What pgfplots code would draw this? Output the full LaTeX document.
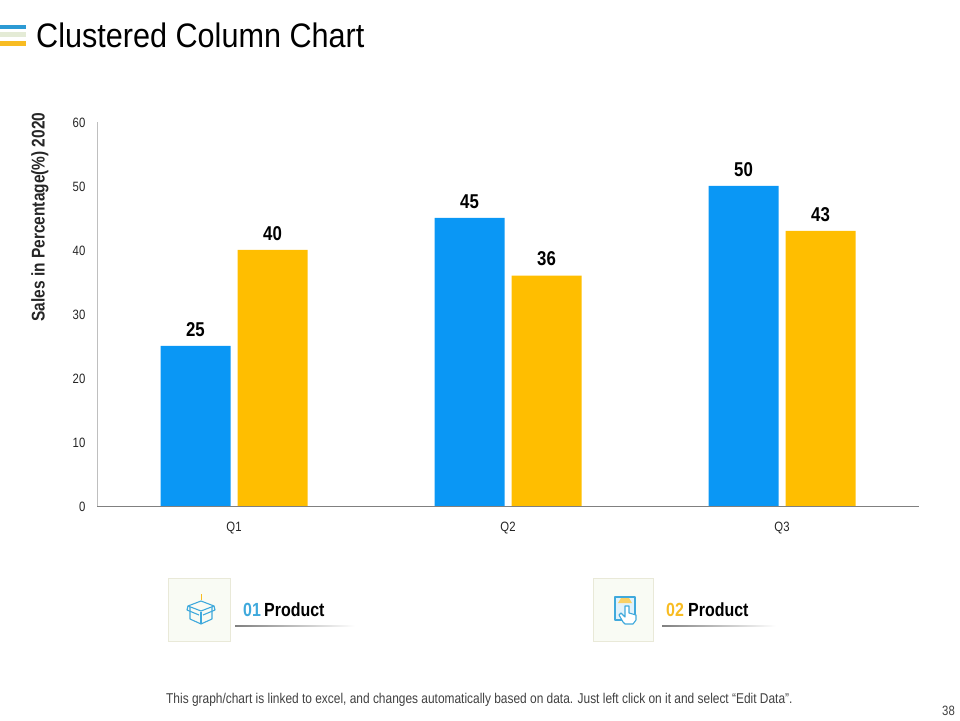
\documentclass[border=0pt]{standalone}
\usepackage{fontspec}
\setmainfont{Liberation Sans}
\newfontfamily\narrowfont[FakeStretch=0.84]{Liberation Sans}
\newfontfamily\titlefont[FakeStretch=0.9]{Liberation Sans}
\usepackage{pgfplots}
\pgfplotsset{compat=1.18}

\definecolor{barblue}{HTML}{0A97F5}
\definecolor{baryellow}{HTML}{FFBE00}
\definecolor{iconblue}{HTML}{3FA9DC}
\definecolor{stripeblue}{HTML}{2C9AD4}
\definecolor{stripepale}{HTML}{E4EBD6}
\definecolor{stripeyellow}{HTML}{F8BC22}
\definecolor{boxfill}{HTML}{F9FBF4}
\definecolor{boxline}{HTML}{E9E9D8}

\pgfplotstableread{
x q product1 product2
0 Q1 25 40
1 Q2 45 36
2 Q3 50 43
}\salesdata

\begin{document}
\begin{tikzpicture}[x=1pt,y=1pt]
\path (0,0) rectangle (960,720);

% title stripes (y counted from the bottom of the page)
\fill[stripeblue] (0,691) rectangle (26,695);
\fill[stripepale] (0,683) rectangle (26,688);
\fill[stripeyellow] (0,674) rectangle (26,679);
\node[anchor=west,inner sep=0pt,font=\fontsize{34}{34}\selectfont\titlefont] at (36,685) {Clustered Column Chart};

\begin{axis}[
    at={(97pt,214pt)},
    anchor=south west,
    scale only axis,
    width=822pt,
    height=384pt,
    ybar,
    bar width=70pt,
    xmin=-0.5, xmax=2.5,
    ymin=0, ymax=60,
    ytick={0,10,...,60},
    xtick=data,
    xticklabels from table={\salesdata}{q},
    axis x line=bottom,
    axis y line=left,
    axis line style={draw=none},
    major tick style={draw=none},
    tick label style={font=\fontsize{13.5}{14}\selectfont\narrowfont,text=black!85},
    /pgf/number format/assume math mode=true,
    xticklabel style={yshift=-10pt},
    yticklabel style={xshift=-6pt,yshift=-1pt},
    ylabel={\textbf{Sales in Percentage(\%) 2020}},
    ylabel style={at={(rel axis cs:-0.0694,0.7526)},anchor=center,font=\fontsize{18.4}{19}\selectfont\narrowfont,text=black!85},
    clip=false,
    nodes near coords,
    nodes near coords style={font=\fontsize{20}{20}\selectfont\narrowfont\bfseries,text=black,yshift=6pt},
    /pgf/number format/.cd,1000 sep={},
]
\addplot[fill=barblue,draw=none,bar shift=-38.5pt] table[x=x,y=product1] {\salesdata};
\addplot[fill=baryellow,draw=none,bar shift=38.5pt] table[x=x,y=product2] {\salesdata};
\end{axis}

% axis lines
\draw[black!25,line width=0.8pt] (97,214) -- (97,598);
\draw[black!50,line width=0.8pt] (97,214) -- (919,214);

% product 1
\draw[boxline,fill=boxfill,line width=0.7pt] (168,79) rectangle (230,142);
\begin{scope}[yshift=8pt,iconblue,line width=1.1pt,line join=round]
\draw (188,106) -- (201,101) -- (214,106) -- (201,111) -- cycle;
\draw (190,105) -- (190,93) -- (201,88) -- (212,93) -- (212,105);
\draw (201,100) -- (201,88);
\draw (188,106) -- (187,102) -- (199,97);
\draw (214,106) -- (215,102) -- (203,97);
\draw[stripeyellow,line width=0.8pt] (201,112) -- (201,118);
\end{scope}
\node[anchor=base west,inner sep=0pt,font=\fontsize{19}{19}\selectfont\narrowfont\bfseries,text=iconblue] at (243,104) {01};
\node[anchor=base west,inner sep=0pt,font=\fontsize{19}{19}\selectfont\narrowfont\bfseries] at (264,104) {Product};
\shade[left color=black!50,right color=white] (235,93.6) rectangle (355,94.4);

% product 2
\draw[boxline,fill=boxfill,line width=0.7pt] (593,79) rectangle (653,142);
\begin{scope}[iconblue,line width=1.1pt,line join=round]
\draw[fill=iconblue!15] (615,100) -- (615,123) -- (635,123) -- (635,100) -- cycle;
\fill[stripeyellow!70] (618,117) -- (632,117) -- (629,122) -- (621,122) -- cycle;
\draw[fill=white] (623,98) -- (619,105) -- (621,107) -- (625,103) -- (625,114) -- (629,114) -- (629,107) -- (636,105) -- (636,100) -- (633,96) -- (625,96) -- cycle;
\end{scope}
\node[anchor=base west,inner sep=0pt,font=\fontsize{19}{19}\selectfont\narrowfont\bfseries,text=stripeyellow] at (666,104) {02};
\node[anchor=base west,inner sep=0pt,font=\fontsize{19}{19}\selectfont\narrowfont\bfseries] at (688,104) {Product};
\shade[left color=black!50,right color=white] (662,93.6) rectangle (776,94.4);

% footer
\node[anchor=west,inner sep=0pt,font=\fontsize{14.2}{14}\selectfont\narrowfont,text=black!75] at (166,20.5) {This graph/chart is linked to excel, and changes automatically based on data. Just left click on it and select “Edit Data”.};
\node[anchor=east,inner sep=0pt,font=\fontsize{13.5}{14}\selectfont\narrowfont,text=black!75] at (955,9) {38};
\end{tikzpicture}
\end{document}
